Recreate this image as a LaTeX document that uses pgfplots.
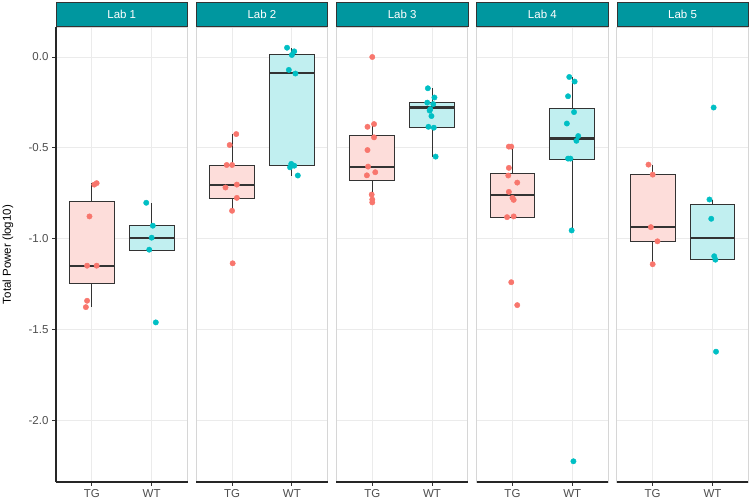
\documentclass[border=0pt]{standalone}
\usepackage{fontspec}
\setmainfont{Liberation Sans}
\usepackage{pgfplots}
\pgfplotsset{compat=1.18}
\usepgfplotslibrary{groupplots,statistics}
\usetikzlibrary{calc}
\definecolor{TGc}{HTML}{F8766D}
\definecolor{WTc}{HTML}{00BFC4}
\definecolor{TGf}{HTML}{FDDDDA}
\definecolor{WTf}{HTML}{C1EFF0}
\definecolor{stripc}{HTML}{00979F}
\definecolor{gridc}{HTML}{EBEBEB}
\definecolor{borderc}{HTML}{D6D6D6}
\definecolor{tickc}{HTML}{4D4D4D}
\definecolor{boxc}{HTML}{333333}
\pgfplotsset{
  tgbox/.style={draw=boxc, line width=0.9pt, fill=TGf},
  wtbox/.style={draw=boxc, line width=0.9pt, fill=WTf},
  tgpts/.style={only marks, mark=*, mark size=2.7pt, color=TGc, mark options={draw=none, fill=TGc}},
  wtpts/.style={only marks, mark=*, mark size=2.7pt, color=WTc, mark options={draw=none, fill=WTc}},
  boxplot/every median/.style={line width=2.2pt},
  bx/.style n args={6}{boxplot prepared={draw position=#1, box extend=0.75, whisker extend=0, lower whisker=#2, lower quartile=#3, median=#4, upper quartile=#5, upper whisker=#6}},
}
\begin{document}
\begin{tikzpicture}
\begin{groupplot}[
  group style={group size=5 by 1, horizontal sep=8.7pt, yticklabels at=edge left, y descriptions at=edge left},
  width=131.5pt, height=455pt, scale only axis,
  xmin=0.4, xmax=2.6, ymin=-2.338, ymax=0.165,
  xtick={1,2}, xticklabels={TG,WT},
  ytick={-2,-1.5,-1,-0.5,0}, yticklabels={-2.0,-1.5,-1.0,-0.5,0.0},
  xtick pos=bottom, ytick pos=left,
  grid=major, major grid style={draw=gridc, line width=0.8pt},
  axis line style={draw=none},
  tick align=outside, major tick length=3.5pt,
  tick style={draw=boxc, line width=0.9pt},
  ticklabel style={font=\fontsize{11.5}{13}\selectfont, text=tickc},
  xticklabel style={yshift=-0.5pt},
  yticklabel style={xshift=-0.5pt},
  boxplot/draw direction=y,
]
% ---------------- Lab 1
\nextgroupplot[ylabel={Total Power (log10)}, ylabel style={at={(axis description cs:-0.365,0.5)}, anchor=center, font=\fontsize{11.5}{13}\selectfont, text=black}]
\addplot[tgbox, bx={1}{-1.374}{-1.246}{-1.148}{-0.793}{-0.694}] coordinates {};
\addplot[wtbox, bx={2}{-1.062}{-1.062}{-0.994}{-0.929}{-0.802}] coordinates {};
\addplot[tgpts] coordinates {(1.04,-0.702) (1.08,-0.694) (0.96,-0.877) (0.92,-1.148) (1.08,-1.148) (0.92,-1.341) (0.90,-1.376)};
\addplot[wtpts] coordinates {(1.91,-0.802) (2.02,-0.928) (2.00,-0.994) (1.96,-1.060) (2.07,-1.460)};
% ---------------- Lab 2
\nextgroupplot[every major y tick/.append style={draw=none}]
\addplot[tgbox, bx={1}{-0.846}{-0.777}{-0.702}{-0.594}{-0.424}] coordinates {};
\addplot[wtbox, bx={2}{-0.652}{-0.598}{-0.090}{0.013}{0.051}] coordinates {};
\addplot[tgpts] coordinates {(1.07,-0.424) (0.96,-0.484) (0.91,-0.594) (1.00,-0.594) (1.08,-0.702) (0.89,-0.718) (1.08,-0.775) (1.00,-0.846) (1.01,-1.135)};
\addplot[wtpts] coordinates {(1.92,0.051) (2.04,0.031) (2.00,0.011) (1.95,-0.071) (2.06,-0.091) (1.99,-0.588) (2.04,-0.598) (1.97,-0.607) (2.10,-0.652)};
% ---------------- Lab 3
\nextgroupplot[every major y tick/.append style={draw=none}]
\addplot[tgbox, bx={1}{-0.800}{-0.680}{-0.603}{-0.429}{-0.369}] coordinates {};
\addplot[wtbox, bx={2}{-0.548}{-0.388}{-0.278}{-0.248}{-0.172}] coordinates {};
\addplot[tgpts] coordinates {(1.00,0.000) (1.03,-0.369) (0.92,-0.384) (1.03,-0.442) (0.92,-0.512) (0.93,-0.603) (1.05,-0.634) (0.91,-0.651) (0.99,-0.757) (1.00,-0.784) (1.00,-0.800)};
\addplot[wtpts] coordinates {(1.93,-0.172) (2.04,-0.223) (1.92,-0.251) (2.02,-0.259) (1.97,-0.287) (1.99,-0.325) (1.94,-0.384) (2.03,-0.389) (2.06,-0.548) (1.96,-0.295)};
% ---------------- Lab 4
\nextgroupplot[every major y tick/.append style={draw=none}]
\addplot[tgbox, bx={1}{-0.881}{-0.881}{-0.758}{-0.643}{-0.493}] coordinates {};
\addplot[wtbox, bx={2}{-0.954}{-0.561}{-0.448}{-0.281}{-0.110}] coordinates {};
\addplot[tgpts] coordinates {(0.94,-0.493) (0.98,-0.493) (0.94,-0.610) (0.93,-0.652) (1.08,-0.691) (0.94,-0.742) (1.00,-0.775) (1.02,-0.786) (0.91,-0.881) (1.02,-0.877) (0.98,-1.239) (1.08,-1.365)};
\addplot[wtpts] coordinates {(1.95,-0.110) (2.04,-0.135) (1.93,-0.216) (2.03,-0.303) (1.91,-0.366) (2.10,-0.435) (2.07,-0.461) (1.93,-0.559) (1.97,-0.559) (1.99,-0.954) (2.02,-2.224)};
% ---------------- Lab 5
\nextgroupplot[every major y tick/.append style={draw=none}]
\addplot[tgbox, bx={1}{-1.140}{-1.014}{-0.936}{-0.647}{-0.592}] coordinates {};
\addplot[wtbox, bx={2}{-1.115}{-1.115}{-0.994}{-0.810}{-0.784}] coordinates {};
\addplot[tgpts] coordinates {(0.93,-0.592) (1.00,-0.647) (0.97,-0.936) (1.08,-1.014) (1.00,-1.140)};
\addplot[wtpts] coordinates {(2.02,-0.278) (1.95,-0.784) (1.98,-0.890) (2.03,-1.096) (2.05,-1.115) (2.06,-1.621)};
\end{groupplot}
\foreach \i in {1,...,5} {
  \draw[draw=borderc, line width=0.9pt] (group c\i r1.south west) rectangle (group c\i r1.north east);
  \draw[draw=black!85, line width=1.1pt] (group c\i r1.south west) -- (group c\i r1.south east);
  \filldraw[fill=stripc, draw=boxc, line width=0.6pt] ($(group c\i r1.north west)+(0,1pt)$) rectangle ($(group c\i r1.north east)+(0,25pt)$);
  \node[text=white, font=\fontsize{11.5}{13}\selectfont] at ($(group c\i r1.north)+(0,13pt)$) {Lab \i};
}
\draw[draw=black!85, line width=1.1pt] (group c1r1.south west) -- (group c1r1.north west);
\pgfresetboundingbox
\path ($(group c1r1.south west)+(-56pt,-19pt)$) rectangle ($(group c5r1.north east)+(1.7pt,27pt)$);
\end{tikzpicture}
\end{document}
